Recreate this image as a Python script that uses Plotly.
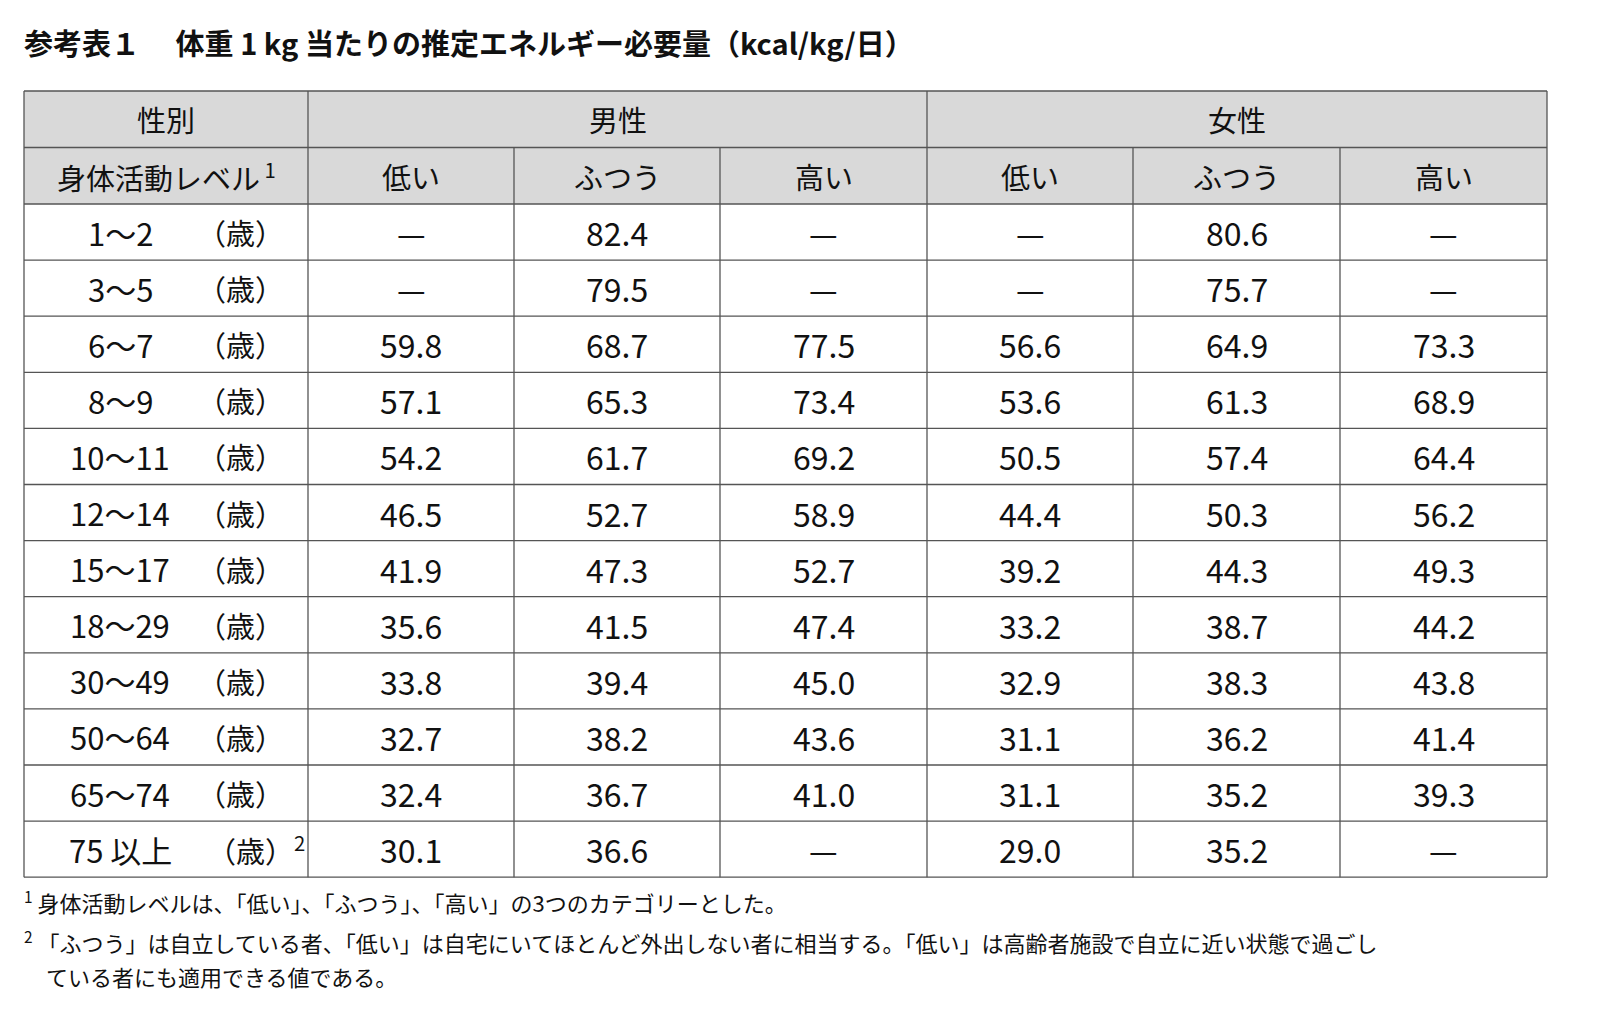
import plotly.graph_objects as go

title = "参考表１　 体重 1 kg 当たりの推定エネルギー必要量（kcal/kg/日）"
sexes = ["男性", "女性"]
levels = ["低い", "ふつう", "高い"]
ages = ["1～2", "3～5", "6～7", "8～9", "10～11", "12～14", "15～17", "18～29", "30～49", "50～64", "65～74", "75 以上"]
male = [["—", "82.4", "—"], ["—", "79.5", "—"], ["59.8", "68.7", "77.5"], ["57.1", "65.3", "73.4"],
        ["54.2", "61.7", "69.2"], ["46.5", "52.7", "58.9"], ["41.9", "47.3", "52.7"], ["35.6", "41.5", "47.4"],
        ["33.8", "39.4", "45.0"], ["32.7", "38.2", "43.6"], ["32.4", "36.7", "41.0"], ["30.1", "36.6", "—"]]
female = [["—", "80.6", "—"], ["—", "75.7", "—"], ["56.6", "64.9", "73.3"], ["53.6", "61.3", "68.9"],
          ["50.5", "57.4", "64.4"], ["44.4", "50.3", "56.2"], ["39.2", "44.3", "49.3"], ["33.2", "38.7", "44.2"],
          ["32.9", "38.3", "43.8"], ["31.1", "36.2", "41.4"], ["31.1", "35.2", "39.3"], ["29.0", "35.2", "—"]]
notes = ["<sup>1</sup> 身体活動レベルは、「低い」、「ふつう」、「高い」の3つのカテゴリーとした。",
         "<sup>2</sup> 「ふつう」は自立している者、「低い」は自宅にいてほとんど外出しない者に相当する。「低い」は高齢者施設で自立に近い状態で過ごし",
         "　ている者にも適用できる値である。"]

F = "Noto Sans CJK JP"
cols = [24, 308, 514, 720, 927, 1133, 1340, 1547]
top, hrow, drow = 91, 56.5, 56.1
rows_y = [top, top + hrow, top + 2 * hrow] + [top + 2 * hrow + drow * (i + 1) for i in range(len(ages))]
bottom = rows_y[-1]
LC = "#555555"

fig = go.Figure(go.Scatter(x=[10, 1590], y=[10, 1000], mode="markers", marker=dict(opacity=0), hoverinfo="skip"))
shapes, ann = [], []
shapes.append(dict(type="rect", x0=cols[0], x1=cols[-1], y0=rows_y[0], y1=rows_y[2], fillcolor="#d9d9d9", line_width=0, layer="below"))
def line(x0, y0, x1, y1):
    shapes.append(dict(type="line", x0=x0, y0=y0, x1=x1, y1=y1, line=dict(color=LC, width=1.3)))
for y in rows_y:
    line(cols[0], y, cols[-1], y)
for i, x in enumerate(cols):
    if i in (2, 3, 5, 6):
        line(x, rows_y[1], x, bottom)
    else:
        line(x, top, x, bottom)

def txt(x, y, t, size=31, xa="center"):
    ann.append(dict(x=x, y=y, text=t, showarrow=False, xanchor=xa, yanchor="middle", font=dict(family=F, size=size, color="#111")))

mid = lambda a, b: (a + b) / 2
txt(mid(cols[0], cols[1]), mid(rows_y[0], rows_y[1]), "性別", 29)
txt(mid(cols[0], cols[1]), mid(rows_y[1], rows_y[2]), "身体活動レベル<sup> 1</sup>", 29)
txt(mid(cols[1], cols[4]), mid(rows_y[0], rows_y[1]), sexes[0], 29)
txt(mid(cols[4], cols[7]), mid(rows_y[0], rows_y[1]), sexes[1], 29)
for k in range(6):
    txt(mid(cols[k + 1], cols[k + 2]), mid(rows_y[1], rows_y[2]), levels[k % 3], 29)
for r, a in enumerate(ages):
    yc = mid(rows_y[r + 2], rows_y[r + 3])
    txt(120, yc, a)
    if r == len(ages) - 1:
        txt(205, yc, "（歳）<sup>2</sup>", 29, "left")
    else:
        txt(240, yc, "（歳）", 29)
    vals = male[r] + female[r]
    for k, v in enumerate(vals):
        txt(mid(cols[k + 1], cols[k + 2]), yc, v, 32)

txt(22, 42, "<b>" + title + "</b>", 29, "left")
for i, (n, y) in enumerate(zip(notes, [901, 941, 976])):
    txt(22, y, n, 22, "left")

fig.update_layout(width=1584, height=1002, margin=dict(l=0, r=0, t=0, b=0), plot_bgcolor="white", paper_bgcolor="white",
                  shapes=shapes, annotations=ann, showlegend=False,
                  xaxis=dict(range=[8, 1592], visible=False, fixedrange=True),
                  yaxis=dict(range=[1010, 8], visible=False, fixedrange=True))
fig.write_html("out.html")
